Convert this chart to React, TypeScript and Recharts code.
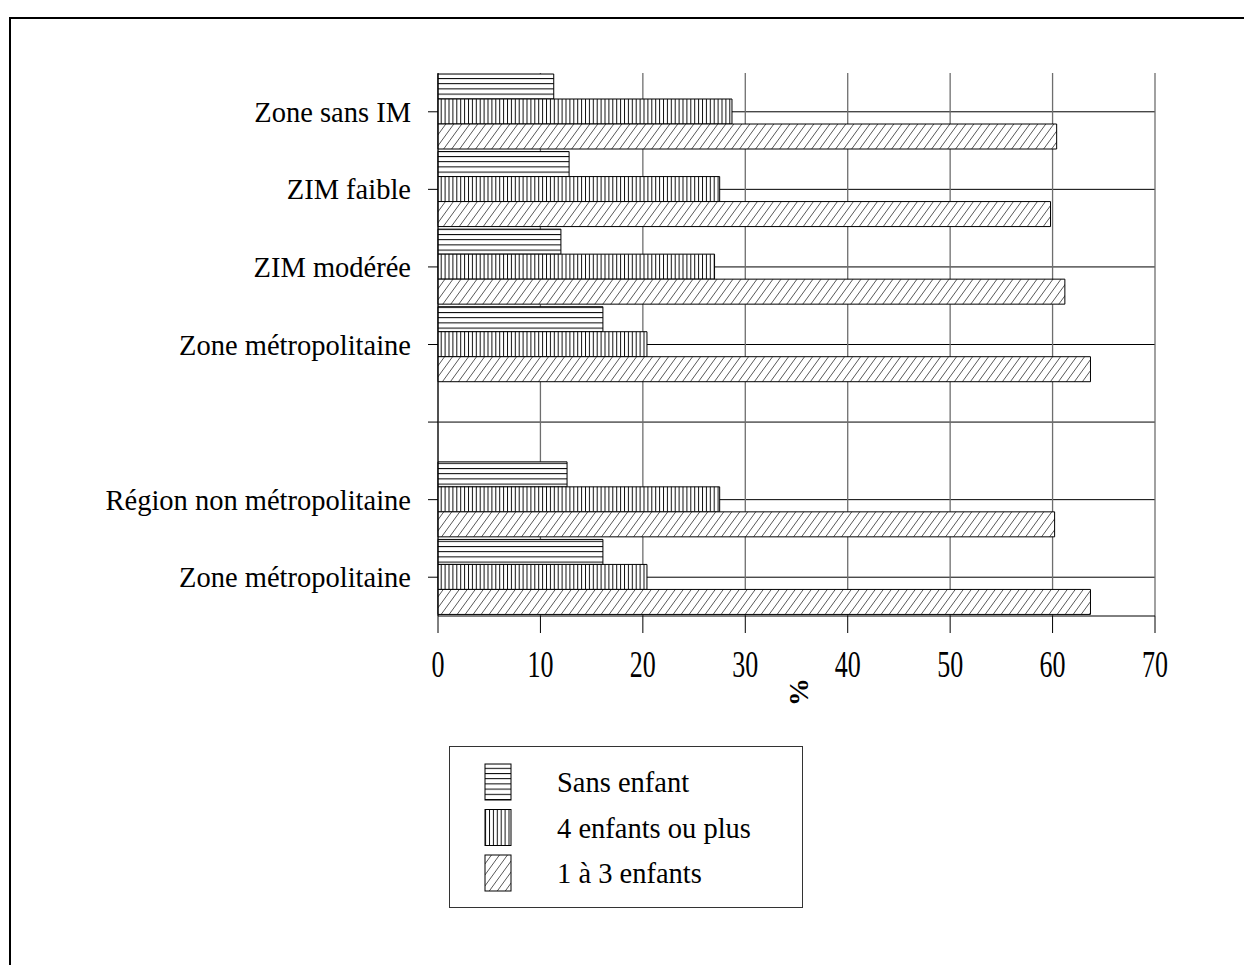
import React from 'react';
import { BarChart, Bar, XAxis, YAxis, CartesianGrid, Legend } from 'recharts';

const categories = ['Zone sans IM', 'ZIM faible', 'ZIM modérée', 'Zone métropolitaine', '', 'Région non métropolitaine', 'Zone métropolitaine'];
const sansEnfant = [11.3, 12.8, 12.0, 16.1, null, 12.6, 16.1];
const quatrePlus = [28.7, 27.5, 27.0, 20.4, null, 27.5, 20.4];
const unATrois = [60.4, 59.8, 61.2, 63.7, null, 60.2, 63.7];
const xTicks = [0, 10, 20, 30, 40, 50, 60, 70];
const seriesNames = ['Sans enfant', '4 enfants ou plus', '1 à 3 enfants'];

const data = categories.map((name, i) => ({
  name,
  sans: sansEnfant[i],
  quatre: quatrePlus[i],
  un: unATrois[i],
}));

const FONT = '"Liberation Serif", "Times New Roman", serif';

const Patterns = ({ prefix }: { prefix: string }) => (
  <defs>
    <pattern id={`${prefix}h`} patternUnits="userSpaceOnUse" width={8} height={5.2}>
      <rect width={8} height={5.2} fill="#fff" />
      <line x1={0} y1={0.5} x2={8} y2={0.5} stroke="#000" strokeWidth={1} />
    </pattern>
    <pattern id={`${prefix}v`} patternUnits="userSpaceOnUse" width={3.9} height={8}>
      <rect width={3.9} height={8} fill="#fff" />
      <line x1={0.5} y1={0} x2={0.5} y2={8} stroke="#111" strokeWidth={1} />
    </pattern>
    <pattern id={`${prefix}d`} patternUnits="userSpaceOnUse" width={8} height={11}>
      <rect width={8} height={11} fill="#fff" />
      <line x1={0} y1={11} x2={8} y2={0} stroke="#444" strokeWidth={0.9} />
      <line x1={-8} y1={11} x2={0} y2={0} stroke="#444" strokeWidth={0.9} />
      <line x1={8} y1={11} x2={16} y2={0} stroke="#444" strokeWidth={0.9} />
    </pattern>
  </defs>
);

const XTick = (props: any) => {
  const { x, payload } = props;
  return (
    <g transform={`translate(${x},677) scale(1,1.45)`}>
      <text x={0} y={0} textAnchor="middle" fontFamily={FONT} fontSize={26} fill="#000">
        {payload.value}
      </text>
    </g>
  );
};

const PercentLabel = () => (
  <g transform="translate(808,692) rotate(-90)">
    <text x={0} y={0} textAnchor="middle" fontFamily={FONT} fontSize={28} fontWeight="bold" fill="#000">
      %
    </text>
  </g>
);

const fills = ['lgh', 'lgv', 'lgd'];

const LegendContent = () => (
  <div
    style={{
      width: 354,
      height: 162,
      boxSizing: 'border-box',
      border: '1px solid #333',
      position: 'relative',
      background: '#fff',
    }}
  >
    <svg width={352} height={160} style={{ position: 'absolute', left: 0, top: 0 }}>
      <Patterns prefix="lg" />
      {seriesNames.map((n, i) => (
        <g key={n}>
          <rect x={35} y={17 + i * 45.5} width={26} height={36} fill={`url(#${fills[i]})`} stroke="#000" strokeWidth={1} />
          <text x={107} y={45 + i * 45.5} fontFamily={FONT} fontSize={28.5} fill="#000">
            {n}
          </text>
        </g>
      ))}
    </svg>
  </div>
);

const hLine = (p: any) => {
  if (p.y1 < 80 || p.y1 > 612) return <g key={`hl-${p.index}`} />;
  return <line key={`hl-${p.index}`} x1={p.x1} y1={p.y1} x2={p.x2} y2={p.y2} stroke="#000" strokeWidth={1} />;
};

const vLine = (p: any) => {
  return <line key={`vl-${p.index}`} x1={p.x1} y1={p.y1} x2={p.x2} y2={p.y2} stroke="#6e6e6e" strokeWidth={1.3} />;
};

export default function App() {
  return (
    <div style={{ position: 'absolute', left: 0, top: 0, width: 1244, height: 965, background: '#fff', overflow: 'hidden' }}>
      <div
        style={{
          position: 'absolute',
          left: 9,
          top: 17,
          width: 1240,
          height: 960,
          borderTop: '2px solid #000',
          borderLeft: '2px solid #000',
        }}
      />
      <div style={{ position: 'absolute', left: 0, top: 0 }}>
        <BarChart
          width={1244}
          height={965}
          data={data}
          layout="vertical"
          margin={{ top: 73, right: 89, left: 8, bottom: 289 }}
          barCategoryGap={1}
          barGap={0}
        >
          <Patterns prefix="p" />
          <CartesianGrid horizontal={hLine as any} vertical={vLine as any} stroke="#6e6e6e" />
          <XAxis
            type="number"
            domain={[0, 70]}
            ticks={xTicks}
            interval={0}
            height={60}
            tickSize={17}
            tickMargin={2}
            axisLine={{ stroke: '#000', strokeWidth: 1 }}
            tickLine={{ stroke: '#000', strokeWidth: 1 }}
            tick={<XTick />}
            label={{ content: <PercentLabel /> } as any}
          />
          <YAxis
            type="category"
            dataKey="name"
            width={430}
            interval={0}
            tickSize={10}
            tickMargin={17}
            axisLine={{ stroke: '#000', strokeWidth: 1 }}
            tickLine={{ stroke: '#000', strokeWidth: 1 }}
            tick={{ fontFamily: FONT, fontSize: 28.5, fill: '#000' }}
          />
          <Legend
            layout="vertical"
            align="center"
            verticalAlign="middle"
            wrapperStyle={{ position: 'absolute', left: 449, top: 746, width: 354, height: 162 }}
            content={<LegendContent />}
          />
          <Bar dataKey="sans" name={seriesNames[0]} fill="url(#ph)" stroke="#000" strokeWidth={1} isAnimationActive={false} />
          <Bar dataKey="quatre" name={seriesNames[1]} fill="url(#pv)" stroke="#000" strokeWidth={1} isAnimationActive={false} />
          <Bar dataKey="un" name={seriesNames[2]} fill="url(#pd)" stroke="#000" strokeWidth={1} isAnimationActive={false} />
        </BarChart>
      </div>
    </div>
  );
}
